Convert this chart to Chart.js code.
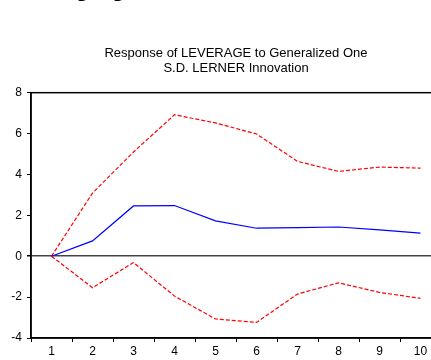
<!DOCTYPE html>
<html>
<head>
<meta charset="utf-8">
<script src="https://cdn.jsdelivr.net/npm/chart.js@4/dist/chart.umd.min.js"></script>
<style>
  html, body { margin: 0; padding: 0; background: #fff; overflow: hidden; }
  #wrap { position: relative; width: 431px; height: 360px; overflow: hidden; }
  #heading { position: absolute; left: 75px; top: -24px; font: bold 24px "Liberation Sans", Arial, sans-serif; line-height: 24px; color: #000; white-space: nowrap; }
  canvas { position: absolute; left: 0; top: 0; }
</style>
</head>
<body>
<div id="wrap">
  <div id="heading">ging</div>
  <canvas id="c" width="445" height="360"></canvas>
</div>
<script>
// Periods after the shock
const periods = ['1', '2', '3', '4', '5', '6', '7', '8', '9', '10'];
// Impulse response of LEVERAGE
const response = [0, 0.75, 2.46, 2.48, 1.73, 1.37, 1.40, 1.43, 1.29, 1.13];
// +/- 2 S.E. bands
const upperBand = [0, 3.09, 5.10, 6.92, 6.52, 5.98, 4.64, 4.15, 4.36, 4.31];
const lowerBand = [0, -1.54, -0.31, -1.95, -3.07, -3.24, -1.85, -1.30, -1.77, -2.06];
const titleLines = ['Response of LEVERAGE to Generalized One', 'S.D. LERNER Innovation'];

const FONT = '"Liberation Sans", Arial, sans-serif';

// Box round the plot area
const frame = {
  id: 'frame',
  afterDatasetsDraw(chart) {
    const a = chart.chartArea, ctx = chart.ctx;
    ctx.save();
    ctx.strokeStyle = '#000';
    ctx.lineWidth = 1.5;
    ctx.strokeRect(a.left, a.top, a.right - a.left, a.bottom - a.top);
    ctx.restore();
  }
};

new Chart(document.getElementById('c'), {
  type: 'line',
  data: {
    labels: periods,
    datasets: [
      { data: response, borderColor: '#0000ff', borderWidth: 1.2, pointRadius: 0, tension: 0, fill: false },
      { data: upperBand, borderColor: '#ff0000', borderWidth: 1.2, borderDash: [4, 2], pointRadius: 0, tension: 0, fill: false },
      { data: lowerBand, borderColor: '#ff0000', borderWidth: 1.2, borderDash: [4, 2], pointRadius: 0, tension: 0, fill: false }
    ]
  },
  options: {
    responsive: false,
    animation: false,
    events: [],
    layout: { padding: { left: 0, right: 4, top: 0, bottom: 0 } },
    plugins: {
      legend: { display: false },
      tooltip: { enabled: false },
      title: {
        display: true,
        text: titleLines,
        fullSize: false,
        color: '#000',
        font: { family: FONT, size: 13, weight: 'normal', lineHeight: 1.18 },
        padding: { top: 45.5, bottom: 16.5 }
      }
    },
    scales: {
      x: {
        type: 'category',
        offset: true,
        grid: { display: true, offset: true, drawOnChartArea: false, drawTicks: true, tickLength: 4, tickColor: '#000', tickWidth: 1 },
        border: { display: true, color: '#000', width: 1.5 },
        ticks: { color: '#000', font: { family: FONT, size: 12 }, padding: 2, maxRotation: 0, autoSkip: false },
        afterFit(scale) { scale.height = 22; }
      },
      y: {
        min: -4,
        max: 8,
        ticks: { stepSize: 2, color: '#000', font: { family: FONT, size: 12 }, padding: 5 },
        grid: {
          display: true,
          drawOnChartArea: true,
          drawTicks: true,
          tickLength: 4,
          tickColor: '#000',
          color: (c) => (c.tick && c.tick.value === 0 ? '#444' : 'rgba(0,0,0,0)'),
          lineWidth: (c) => (c.tick && c.tick.value === 0 ? 1.5 : 1)
        },
        border: { display: true, color: '#000', width: 1.5 },
        afterFit(scale) { scale.width = 31; }
      }
    }
  },
  plugins: [frame]
});
</script>
</body>
</html>
